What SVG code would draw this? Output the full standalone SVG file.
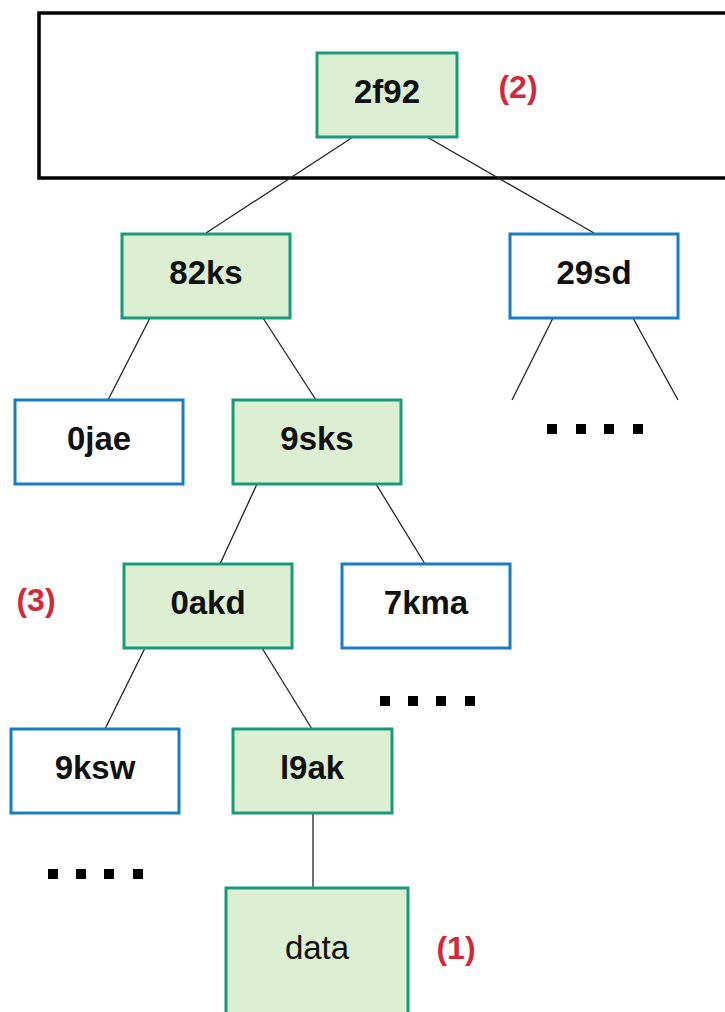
<svg xmlns="http://www.w3.org/2000/svg" width="725" height="1012" viewBox="0 0 725 1012">
<style>
.g{fill:#dcefd2;stroke:#1b9a7b;stroke-width:3}
.b{fill:#ffffff;stroke:#1a7dc4;stroke-width:3}
.t{font-family:"Liberation Sans",Arial,sans-serif;font-size:33px;font-weight:bold;fill:#111;text-anchor:middle}
.d{font-family:"Liberation Sans",Arial,sans-serif;font-size:33px;fill:#111;text-anchor:middle}
.r{font-family:"Liberation Sans",Arial,sans-serif;font-size:32px;font-weight:bold;fill:#d12b3b;text-anchor:middle}
.c line{stroke:#222;stroke-width:1.3}
.dot{fill:#000}
</style>
<rect x="39" y="13" width="700" height="165" fill="none" stroke="#000" stroke-width="3.5"/>
<g class="c" id="connectors">
<line x1="353" y1="137" x2="206" y2="233"/>
<line x1="427" y1="137" x2="594" y2="233"/>
<line x1="150" y1="318" x2="108" y2="400"/>
<line x1="263" y1="318" x2="316" y2="400"/>
<line x1="553" y1="318" x2="512" y2="400"/>
<line x1="633" y1="318" x2="678" y2="400"/>
<line x1="257" y1="484" x2="220" y2="564"/>
<line x1="376" y1="484" x2="425" y2="564"/>
<line x1="145" y1="648" x2="105" y2="729"/>
<line x1="262" y1="648" x2="312" y2="729"/>
<line x1="313" y1="813" x2="313" y2="888"/>
</g>
<g id="n2f92"><rect class="g" x="317" y="53" width="140" height="84"/><text class="t" x="387" y="103">2f92</text></g>
<g id="n82ks"><rect class="g" x="122" y="234" width="168" height="84"/><text class="t" x="206" y="284">82ks</text></g>
<g id="n29sd"><rect class="b" x="510" y="234" width="168" height="84"/><text class="t" x="594" y="284">29sd</text></g>
<g id="n0jae"><rect class="b" x="15" y="400" width="168" height="84"/><text class="t" x="99" y="450">0jae</text></g>
<g id="n9sks"><rect class="g" x="233" y="400" width="168" height="84"/><text class="t" x="317" y="450">9sks</text></g>
<g id="n0akd"><rect class="g" x="124" y="564" width="168" height="84"/><text class="t" x="208" y="614">0akd</text></g>
<g id="n7kma"><rect class="b" x="342" y="564" width="168" height="84"/><text class="t" x="426" y="614">7kma</text></g>
<g id="n9ksw"><rect class="b" x="11" y="729" width="168" height="84"/><text class="t" x="95" y="779">9ksw</text></g>
<g id="nl9ak"><rect class="g" x="233" y="729" width="159" height="84"/><text class="t" x="312" y="779">l9ak</text></g>
<g id="ndata"><rect class="g" x="226" y="888" width="182" height="140"/><text class="d" x="317" y="959">data</text></g>
<g id="labels">
<text class="r" x="518" y="98">(2)</text>
<text class="r" x="36" y="611">(3)</text>
<text class="r" x="456" y="959">(1)</text>
</g>
<g id="dots" class="dot">
<rect x="547" y="424" width="10" height="10"/><rect x="576" y="424" width="10" height="10"/><rect x="604" y="424" width="10" height="10"/><rect x="633" y="424" width="10" height="10"/>
<rect x="380" y="696" width="10" height="10"/><rect x="408" y="696" width="10" height="10"/><rect x="436" y="696" width="10" height="10"/><rect x="465" y="696" width="10" height="10"/>
<rect x="48" y="869" width="10" height="10"/><rect x="76" y="869" width="10" height="10"/><rect x="104" y="869" width="10" height="10"/><rect x="133" y="869" width="10" height="10"/>
</g>
</svg>
